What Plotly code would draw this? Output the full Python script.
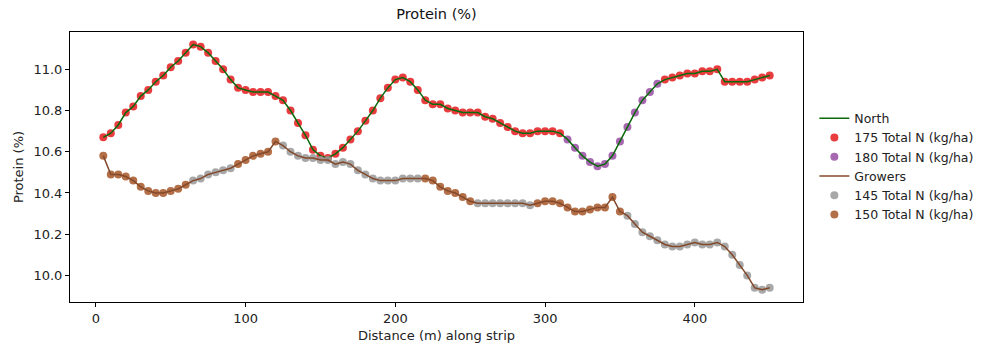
import plotly.graph_objects as go

distance = list(range(5, 455, 5))

north_protein = [
    10.67, 10.69, 10.73, 10.79, 10.82, 10.87, 10.90, 10.94, 10.97, 11.01,
    11.04, 11.08, 11.12, 11.11, 11.08, 11.04, 11.00, 10.95, 10.91, 10.90,
    10.89, 10.89, 10.89, 10.87, 10.85, 10.80, 10.74, 10.68, 10.61, 10.58,
    10.57, 10.59, 10.62, 10.66, 10.70, 10.75, 10.80, 10.86, 10.91, 10.95,
    10.96, 10.94, 10.90, 10.85, 10.83, 10.83, 10.81, 10.80, 10.79, 10.79,
    10.79, 10.77, 10.76, 10.74, 10.72, 10.70, 10.69, 10.69, 10.70, 10.70,
    10.70, 10.69, 10.66, 10.62, 10.58, 10.55, 10.53, 10.54, 10.58, 10.65,
    10.72, 10.79, 10.85, 10.89, 10.93, 10.95, 10.96, 10.97, 10.98, 10.98,
    10.99, 10.99, 11.00, 10.94, 10.94, 10.94, 10.94, 10.95, 10.96, 10.97,
]
north_rate = [175] * 62 + [180] * 13 + [175] * 15

growers_protein = [
    10.58, 10.49, 10.49, 10.48, 10.46, 10.43, 10.41, 10.40, 10.40, 10.41,
    10.42, 10.44, 10.46, 10.47, 10.49, 10.50, 10.51, 10.52, 10.54, 10.56,
    10.58, 10.59, 10.60, 10.65, 10.63, 10.60, 10.58, 10.57, 10.57, 10.56,
    10.56, 10.54, 10.55, 10.54, 10.51, 10.49, 10.47, 10.46, 10.46, 10.46,
    10.47, 10.47, 10.47, 10.47, 10.46, 10.43, 10.41, 10.40, 10.38, 10.36,
    10.35, 10.35, 10.35, 10.35, 10.35, 10.35, 10.35, 10.34, 10.35, 10.36,
    10.36, 10.35, 10.33, 10.31, 10.31, 10.32, 10.33, 10.33, 10.38, 10.31,
    10.29, 10.25, 10.21, 10.19, 10.17, 10.15, 10.14, 10.14, 10.15, 10.16,
    10.15, 10.15, 10.16, 10.14, 10.10, 10.05, 10.00, 9.94, 9.93, 9.94,
]
growers_rate = ([150] * 12 + [145] * 6 + [150] * 6 + [145] * 19 + [150] * 7
                + [145] * 8 + [150] * 12 + [145] * 20)

series = [
    ("North", north_protein, north_rate, "#0a6a0a",
     [(175, "#e41a1c"), (180, "#984ea3")]),
    ("Growers", growers_protein, growers_rate, "#83492a",
     [(145, "#999999"), (150, "#a65628")]),
]

fig = go.Figure()
rank = 1
for name, vals, rates, line_color, groups in series:
    line_rank = rank
    rank += 1
    for rate, col in groups:
        xs = [d for d, r in zip(distance, rates) if r == rate]
        ys = [v for v, r in zip(vals, rates) if r == rate]
        fig.add_trace(go.Scatter(
            x=xs, y=ys, mode="markers", name=f"{rate} Total N (kg/ha)",
            marker=dict(color=col, size=8, opacity=0.85, line=dict(width=0)),
            legendrank=rank,
        ))
        rank += 1
    fig.add_trace(go.Scatter(
        x=distance, y=vals, mode="lines", name=name,
        line=dict(color=line_color, width=1.5), legendrank=line_rank,
    ))

font = "DejaVu Sans"
fig.update_layout(
    width=983, height=345,
    margin=dict(l=70, r=180, t=32, b=43, autoexpand=False),
    paper_bgcolor="white", plot_bgcolor="white",
    font=dict(family=font, size=13, color="#222"),
    title=dict(text="Protein (%)", x=(70 + 803) / 2 / 983, xanchor="center",
               y=1 - 14 / 345, yanchor="middle", yref="container",
               font=dict(size=14.5, color="#111")),
    showlegend=True,
    legend=dict(x=1.0155, xanchor="left", y=0.735, yanchor="top",
                bgcolor="rgba(0,0,0,0)", font=dict(size=12.5, color="#222"),
                tracegroupgap=0),
    xaxis=dict(range=[-17.25, 472.25], tickvals=[0, 100, 200, 300, 400],
               showgrid=False, zeroline=False, showline=True, mirror=True,
               linecolor="black", linewidth=1, ticks="outside", ticklen=4,
               tickcolor="black", tickfont=dict(size=13), automargin=False,
               title=dict(text="Distance (m) along strip", standoff=6,
                          font=dict(size=13))),
    yaxis=dict(range=[9.871, 11.181],
               tickvals=[10.0, 10.2, 10.4, 10.6, 10.8, 11.0],
               ticktext=["10.0", "10.2", "10.4", "10.6", "10.8", "11.0"],
               showgrid=False, zeroline=False, showline=True, mirror=True,
               linecolor="black", linewidth=1, ticks="outside", ticklen=4,
               tickcolor="black", tickfont=dict(size=13), automargin=False,
               title=dict(text="Protein (%)", standoff=6,
                          font=dict(size=13))),
)

fig.write_html("out.html")
